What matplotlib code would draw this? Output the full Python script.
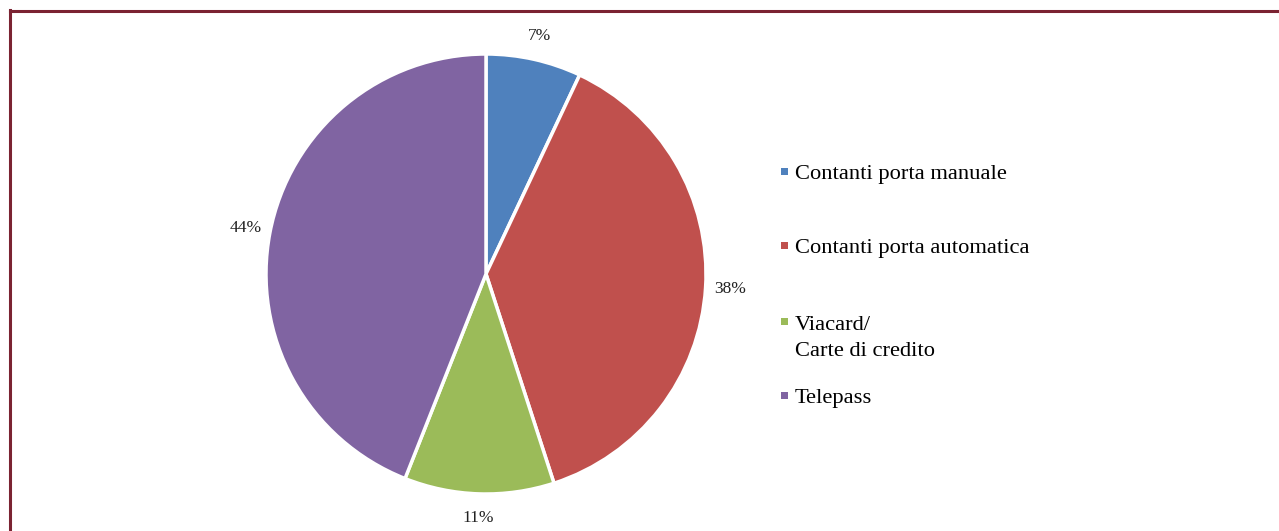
import matplotlib.pyplot as plt
from matplotlib.patches import Rectangle
from matplotlib.lines import Line2D

plt.rcParams['font.family'] = ['Liberation Serif', 'DejaVu Serif']

# Data
categories = ["Contanti porta manuale", "Contanti porta automatica",
              "Viacard/\nCarte di credito", "Telepass"]
shares = [7, 38, 11, 44]
colors = ["#4F81BD", "#C0504D", "#9BBB59", "#8064A2"]

W, H = 1279, 531
fig = plt.figure(figsize=(W / 100, H / 100), dpi=100)

# Pie centred at (486, 274) px with radius 220 px
cx, cy, r = 486, H - 274, 220
ax = fig.add_axes([(cx - r) / W, (cy - r) / H, 2 * r / W, 2 * r / H])
ax.pie(shares, colors=colors, startangle=90, counterclock=False,
       autopct=lambda p: f"{p:.0f}%", pctdistance=1.11,
       wedgeprops=dict(edgecolor="white", linewidth=2.5),
       textprops=dict(fontsize=12.5, color="#222222"))
ax.set_xlim(-1, 1)
ax.set_ylim(-1, 1)
ax.set_aspect("equal")
ax.axis("off")

# Legend drawn by hand so entry spacing follows the original
legend_y = [175, 249, 325, 399]
line_gap = 26
for label, color, y in zip(categories, colors, legend_y):
    fig.add_artist(Rectangle((781 / W, (H - y) / H), 7 / W, 7 / H,
                             transform=fig.transFigure, facecolor=color,
                             edgecolor="none"))
    for i, part in enumerate(label.split("\n")):
        fig.text(795 / W, (H - y - i * line_gap) / H, part, fontsize=16.2,
                 va="center", ha="left")

# Dark red frame (top and left edges visible)
frame = "#7B2332"
fig.add_artist(Line2D([9.5 / W, 1], [(H - 11) / H, (H - 11) / H],
                      transform=fig.transFigure, color=frame, linewidth=2.2))
fig.add_artist(Line2D([10 / W, 10 / W], [0, (H - 10) / H],
                      transform=fig.transFigure, color=frame, linewidth=2.2))

fig.savefig("out.png", dpi=100)
